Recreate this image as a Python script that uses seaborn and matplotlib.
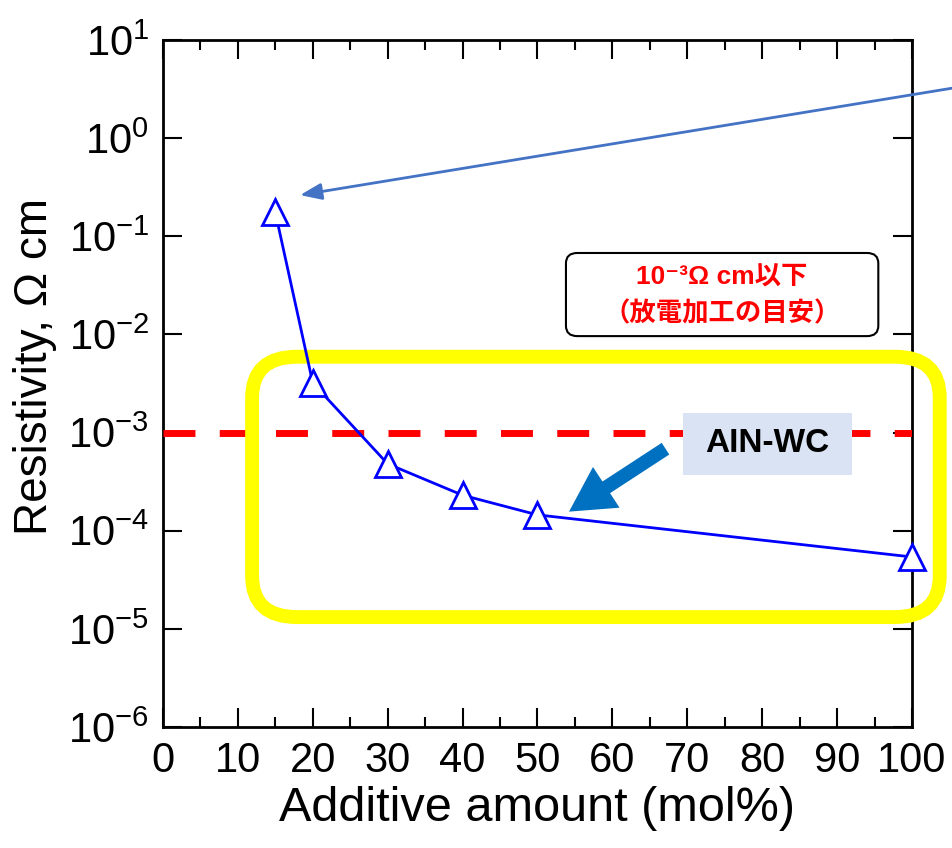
import numpy as np
import pandas as pd
import seaborn as sns
import matplotlib.pyplot as plt
from matplotlib.patches import FancyBboxPatch, Rectangle, FancyArrowPatch
from matplotlib.ticker import FixedLocator, MultipleLocator, NullLocator, FuncFormatter

# values
additive = [15, 20, 30, 40, 50, 100]           # mol%
resistivity = [0.175, 3.2e-3, 4.8e-4, 2.3e-4, 1.45e-4, 5.4e-5]   # ohm cm
edm_limit = 1e-3

x_ticks = list(range(0, 101, 10))
y_exps = list(range(-6, 2))

sns.set_style("ticks")
plt.rcParams["font.family"] = ["Liberation Sans", "Noto Sans CJK JP", "DejaVu Sans"]
plt.rcParams["mathtext.fontset"] = "custom"
plt.rcParams["mathtext.rm"] = "Liberation Sans"
plt.rcParams["mathtext.default"] = "regular"
for k in ["text.color", "axes.labelcolor", "xtick.color", "ytick.color",
          "xtick.labelcolor", "ytick.labelcolor", "axes.edgecolor"]:
    plt.rcParams[k] = "black"

fig = plt.figure(figsize=(9.53, 8.48), dpi=100)
ax = fig.add_axes([0.171, 0.1427, 0.786, 0.8101])

df = pd.DataFrame({"x": additive, "y": resistivity})
sns.lineplot(data=df, x="x", y="y", ax=ax, color="blue", linewidth=2,
             marker="^", markersize=19, markerfacecolor="white",
             markeredgecolor="blue", markeredgewidth=2, zorder=10, clip_on=False)

ax.set_yscale("log")
ax.set_xlim(0, 100)
ax.set_ylim(10.0 ** y_exps[0], 10.0 ** y_exps[-1])

# threshold line
ln = ax.axhline(edm_limit, color="red", lw=5, zorder=3)
ln.set_dashes((4.6, 3.5))

ax.xaxis.set_major_locator(FixedLocator(x_ticks))
ax.xaxis.set_minor_locator(MultipleLocator(5))
ax.yaxis.set_major_locator(FixedLocator([10.0 ** e for e in y_exps]))
ax.yaxis.set_minor_locator(NullLocator())
ax.yaxis.set_major_formatter(FuncFormatter(lambda v, p: r"$\mathdefault{10^{%d}}$" % round(np.log10(v))))

ax.tick_params(which="both", direction="in", top=True, right=True, width=1.5, colors="black")
ax.tick_params(which="major", length=14, labelsize=30, pad=10)
ax.tick_params(which="minor", length=7)
for s in ax.spines.values():
    s.set_linewidth(2)
    s.set_color("black")

ax.set_xlabel("Additive amount (mol%)", fontsize=35, labelpad=4)
ax.set_ylabel("Resistivity, Ω cm", fontsize=33, labelpad=8)
ax.yaxis.label.set_y(0.525)

# yellow highlight frame
ax.add_patch(FancyBboxPatch((0.119, 0.16), 0.918, 0.379,
                            boxstyle="round,pad=0,rounding_size=0.06",
                            transform=ax.transAxes, fc="none", ec="#FFFF00",
                            lw=10, clip_on=False, zorder=5))

# red note box
ax.add_patch(FancyBboxPatch((0.538, 0.569), 0.417, 0.121,
                            boxstyle="round,pad=0,rounding_size=0.015",
                            transform=ax.transAxes, fc="white", ec="black",
                            lw=1.5, zorder=6))
ax.text(0.746, 0.654, "10⁻³Ω cm以下", transform=ax.transAxes, color="red",
        fontsize=19, fontweight="bold", ha="center", va="center", zorder=7)
ax.text(0.746, 0.601, "（放電加工の目安）", transform=ax.transAxes, color="red",
        fontsize=19, fontweight="bold", ha="center", va="center", zorder=7)

# AIN-WC label
ax.add_patch(Rectangle((0.694, 0.367), 0.226, 0.09, transform=ax.transAxes,
                       fc="#DAE3F3", ec="none", zorder=6))
ax.text(0.807, 0.412, "AIN-WC", transform=ax.transAxes, fontsize=24,
        fontweight="bold", ha="center", va="center", zorder=7)

# thick arrow to the AIN-WC series
ax.add_patch(FancyArrowPatch((67.4, 7.1e-4), (53.9, 1.51e-4),
                             arrowstyle="simple,head_length=3.2,head_width=3.5,tail_width=1.0",
                             mutation_scale=10, color="#0070C0", lw=0, zorder=8))

# thin arrow coming from the right
ax.annotate("", xy=(18.3, 0.263), xytext=(106.4, 3.33), xycoords="data",
            arrowprops=dict(arrowstyle="-|>,head_length=0.65,head_width=0.25",
                            mutation_scale=20, color="#4472C4", lw=2,
                            shrinkA=0, shrinkB=0),
            annotation_clip=False, zorder=8)

fig.savefig("out.png", dpi=100)
